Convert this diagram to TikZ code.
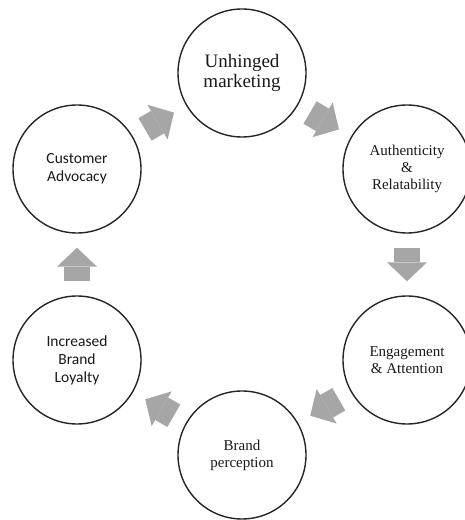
\documentclass[tikz,border=0pt]{standalone}
\usepackage{fontspec}
\setmainfont{Liberation Serif}
\newfontfamily\calibrifont{Carlito}
\usepackage{tikz}
\usetikzlibrary{arrows.meta}
\definecolor{arrowgray}{HTML}{A6A6A6}
\definecolor{ringgray}{HTML}{262626}

\begin{document}
\begin{tikzpicture}[x=1pt,y=1pt,
  cycle_node/.style={circle,draw=ringgray,line width=1.4pt,minimum size=128pt,inner sep=0pt,align=center,text=black!90},
  serif_text/.style={font=\fontsize{15}{17}\selectfont},
  sans_text/.style={font=\calibrifont\fontsize{15.5}{18}\selectfont},
  flow/.style={draw=arrowgray,line width=26pt,shorten <=14pt,shorten >=14pt,-{Triangle[width=40pt,length=19pt,line width=0pt]}}]

    \fill[white] (0,0) rectangle (465,520);
    \useasboundingbox (0,0) rectangle (465,520);

    \node[cycle_node,font=\fontsize{19}{20}\selectfont] (um) at (242,447) {Unhinged\\marketing};
    \node[cycle_node,serif_text] (ar) at (407,351) {Authenticity\\\&\\Relatability};
    \node[cycle_node,serif_text] (ea) at (407,160) {Engagement\\\& Attention};
    \node[cycle_node,serif_text] (bp) at (242,65) {Brand\\perception};
    \node[cycle_node,sans_text] (bl) at (77,160) {Increased\\Brand\\Loyalty};
    \node[cycle_node,sans_text] (ca) at (77,351) {Customer\\Advocacy};

    \draw[flow] (ca) -- (um);
    \draw[flow] (um) -- (ar);
    \draw[flow] (ar) -- (ea);
    \draw[flow] (ea) -- (bp);
    \draw[flow] (bp) -- (bl);
    \draw[flow] (bl) -- (ca);
\end{tikzpicture}
\end{document}
